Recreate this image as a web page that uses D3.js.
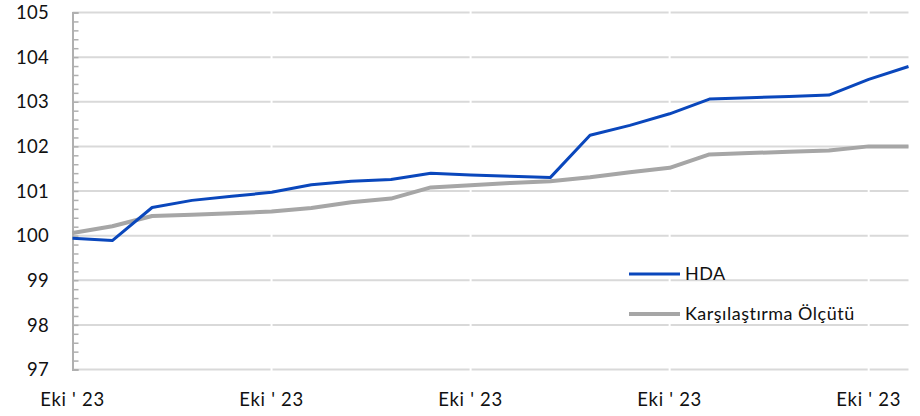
<!DOCTYPE html>
<html>
<head>
<meta charset="utf-8">
<script src="https://cdn.jsdelivr.net/npm/d3@7"></script>
<style>
  body { margin: 0; background: #fff; }
  text { font-family: Lato, "Open Sans", sans-serif; fill: #111; }
</style>
</head>
<body>
<script>
// 22 daily points, all in October 2023
var labels = ["Eki ' 23", "Eki ' 23", "Eki ' 23", "Eki ' 23", "Eki ' 23",
              "Eki ' 23", "Eki ' 23", "Eki ' 23", "Eki ' 23", "Eki ' 23",
              "Eki ' 23", "Eki ' 23", "Eki ' 23", "Eki ' 23", "Eki ' 23",
              "Eki ' 23", "Eki ' 23", "Eki ' 23", "Eki ' 23", "Eki ' 23",
              "Eki ' 23", "Eki ' 23"];

var hda = [99.94, 99.89, 100.63, 100.79, 100.88, 100.97, 101.14, 101.22, 101.26, 101.40,
           101.36, 101.33, 101.30, 102.25, 102.47, 102.73, 103.06, 103.09, 103.12, 103.15,
           103.50, 103.79];

var olcut = [100.06, 100.21, 100.44, 100.47, 100.50, 100.54, 100.62, 100.75, 100.83, 101.08,
             101.13, 101.18, 101.22, 101.31, 101.42, 101.52, 101.82, 101.85, 101.88, 101.91,
             102.00, 102.00];

var yTicks = [97, 98, 99, 100, 101, 102, 103, 104, 105];
var xTickIdx = [0, 5, 10, 15, 20];

var series = [
  { name: "HDA", values: hda, color: "#0a47bc", width: 3 },
  { name: "Karşılaştırma Ölçütü", values: olcut, color: "#a6a6a6", width: 4 }
];

var width = 920,
    height = 416;

var svg = d3.select("body").append("svg")
    .attr("width", width)
    .attr("height", height);

var x = d3.scaleLinear().domain([0, labels.length - 1]).range([72.5, 908.5]);
var y = d3.scaleLinear().domain([97, 105]).range([369.5, 12.5]);

// horizontal gridlines
svg.append("g").selectAll("line")
    .data(yTicks)
  .enter().append("line")
    .attr("x1", x(0)).attr("x2", x(labels.length - 1))
    .attr("y1", function(d) { return y(d); })
    .attr("y2", function(d) { return y(d); })
    .attr("stroke", "#d9d9d9")
    .attr("stroke-width", 2);

// white gaps at category ticks
svg.append("g").selectAll("line")
    .data(xTickIdx.slice(1))
  .enter().append("line")
    .attr("x1", function(d) { return x(d); })
    .attr("x2", function(d) { return x(d); })
    .attr("y1", y(105) - 2).attr("y2", y(97) + 2)
    .attr("stroke", "#fff")
    .attr("stroke-width", 2);

// left axis with minor ticks inside
var yAxis = d3.axisLeft(y)
    .tickValues(d3.range(97, 105.001, 0.2))
    .tickSize(-6)
    .tickFormat("");

var ga = svg.append("g")
    .attr("transform", "translate(" + x(0) + ",0)")
    .call(yAxis);
ga.select(".domain").attr("stroke", "#b0b0b0").attr("stroke-width", 2);
ga.selectAll(".tick line").attr("stroke", "#b0b0b0").attr("stroke-width", 1.5);

// y labels
svg.append("g").selectAll("text")
    .data(yTicks)
  .enter().append("text")
    .attr("x", 49)
    .attr("y", function(d) { return y(d); })
    .attr("dy", "0.36em")
    .attr("text-anchor", "end")
    .style("font-size", "18.5px")
    .style("letter-spacing", "0.3px")
    .text(function(d) { return d; });

// x labels
svg.append("g").selectAll("text")
    .data(xTickIdx)
  .enter().append("text")
    .attr("x", function(d) { return x(d); })
    .attr("y", 406)
    .attr("text-anchor", "middle")
    .style("font-size", "18.5px")
    .style("letter-spacing", "0.7px")
    .text(function(d) { return labels[d]; });

// lines
var line = d3.line()
    .x(function(d, i) { return x(i); })
    .y(function(d) { return y(d); });

svg.append("g").selectAll("path")
    .data(series.slice().reverse())
  .enter().append("path")
    .attr("d", function(d) { return line(d.values); })
    .attr("fill", "none")
    .attr("stroke", function(d) { return d.color; })
    .attr("stroke-width", function(d) { return d.width; })
    .attr("stroke-linejoin", "round");

// legend
var lg = svg.append("g").selectAll("g")
    .data(series)
  .enter().append("g")
    .attr("transform", function(d, i) { return "translate(629," + (274 + i * 40) + ")"; });

lg.append("line")
    .attr("x1", 0).attr("x2", 51)
    .attr("stroke", function(d) { return d.color; })
    .attr("stroke-width", function(d) { return d.width; });

lg.append("text")
    .attr("x", 56)
    .attr("dy", "0.36em")
    .style("font-size", "18px")
    .style("letter-spacing", "0.5px")
    .text(function(d) { return d.name; });
</script>
</body>
</html>
